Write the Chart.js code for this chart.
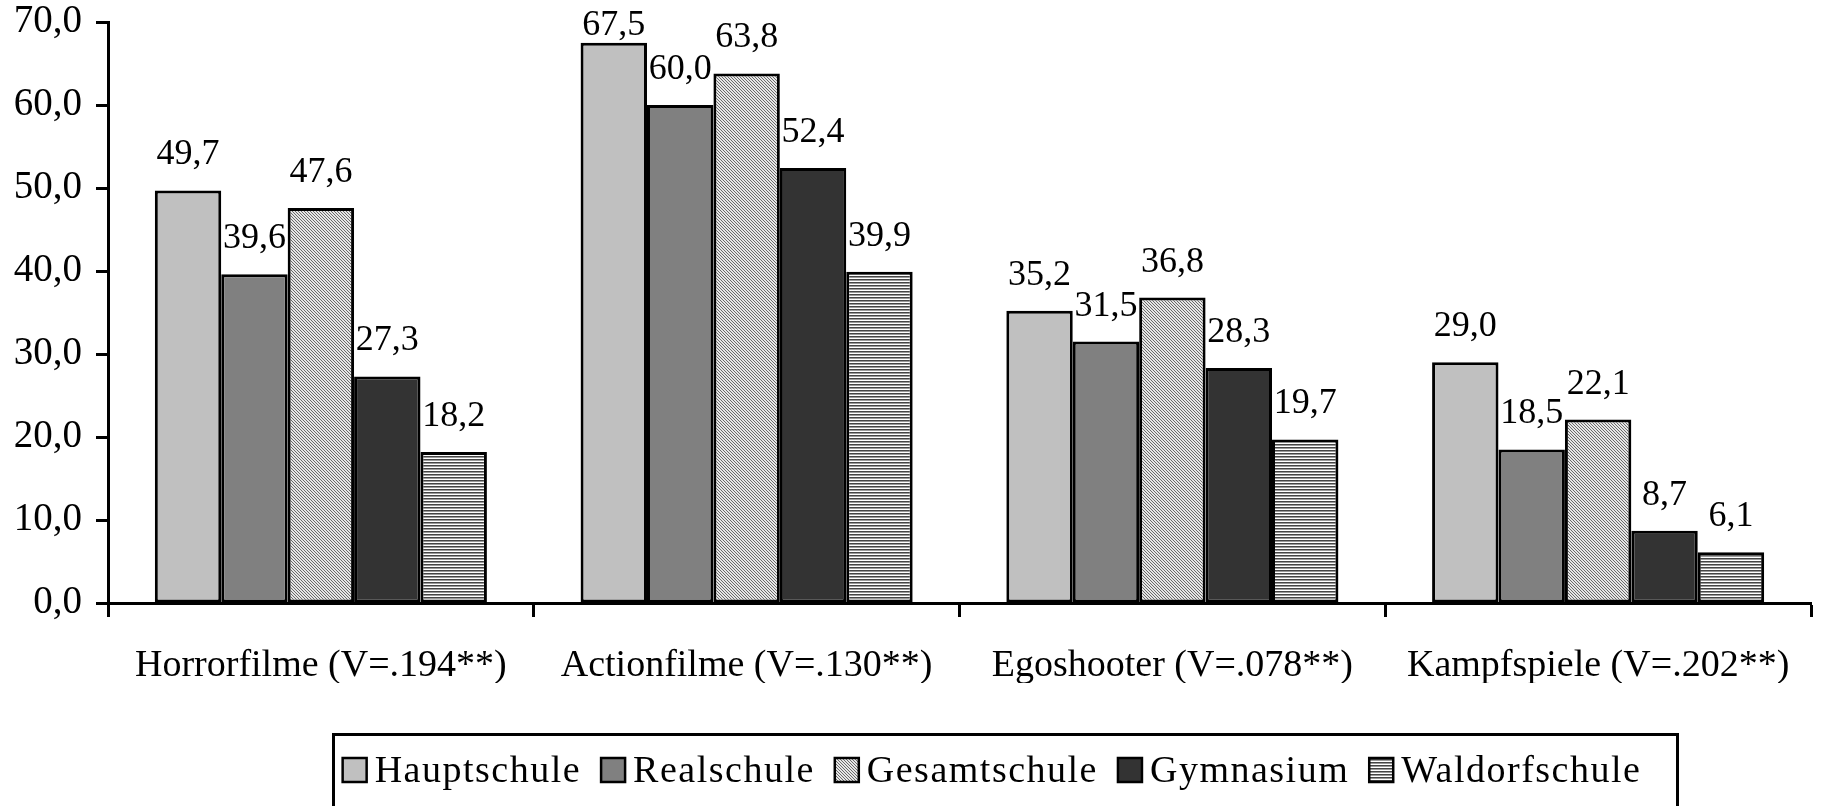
<!DOCTYPE html>
<html>
<head>
<meta charset="utf-8">
<script src="https://cdn.jsdelivr.net/npm/chart.js@4/dist/chart.umd.min.js"></script>
<style>
  html, body { margin: 0; padding: 0; background: #fff; }
  canvas { display: block; }
</style>
</head>
<body>
<canvas id="schoolChart" width="1822" height="806"></canvas>
<script>
// Kategorien und Werte (Prozent) je Schulform
const categories = [
    'Horrorfilme (V=.194**)',
    'Actionfilme (V=.130**)',
    'Egoshooter (V=.078**)',
    'Kampfspiele (V=.202**)'
];
const seriesNames = ['Hauptschule', 'Realschule', 'Gesamtschule', 'Gymnasium', 'Waldorfschule'];
const hauptschule = [49.7, 67.5, 35.2, 29.0];
const realschule = [39.6, 60.0, 31.5, 18.5];
const gesamtschule = [47.6, 63.8, 36.8, 22.1];
const gymnasium = [27.3, 52.4, 28.3, 8.7];
const waldorfschule = [18.2, 39.9, 19.7, 6.1];
const yMin = 0;
const yMax = 70;
const yStep = 10;

const FONT = '"Liberation Serif", "Times New Roman", serif';

function fmt(v) {
    return v.toFixed(1).replace('.', ',');
}

// Füllmuster für die schraffierten Balken
function makePattern(w, h, draw) {
    const c = document.createElement('canvas');
    c.width = w;
    c.height = h;
    const g = c.getContext('2d');
    draw(g);
    return g.createPattern(c, 'repeat');
}

const diagonalPattern = makePattern(3, 3, g => {
    g.fillStyle = '#e6e6e6';
    g.fillRect(0, 0, 3, 3);
    g.fillStyle = '#6a6a6a';
    for (let i = 0; i < 3; i++) g.fillRect(i, i, 1, 1);
});

const stripePattern = makePattern(3, 3, g => {
    g.fillStyle = '#454545';
    g.fillRect(0, 0, 3, 1);
    g.fillStyle = '#9a9a9a';
    g.fillRect(0, 1, 3, 1);
    g.fillStyle = '#ffffff';
    g.fillRect(0, 2, 3, 1);
});

const fills = ['#c0c0c0', '#808080', diagonalPattern, '#333333', stripePattern];
const values = [hauptschule, realschule, gesamtschule, gymnasium, waldorfschule];

// Wertbeschriftung über jedem Balken (oben am Rand festgehalten)
const valueLabels = {
    id: 'valueLabels',
    afterDatasetsDraw(chart) {
        const ctx = chart.ctx;
        ctx.save();
        ctx.font = '36px ' + FONT;
        ctx.fillStyle = '#000';
        ctx.textAlign = 'center';
        ctx.textBaseline = 'alphabetic';
        chart.data.datasets.forEach((ds, i) => {
            chart.getDatasetMeta(i).data.forEach((bar, j) => {
                ctx.fillText(fmt(ds.data[j]), bar.x, Math.max(bar.y - 26, 35));
            });
        });
        ctx.restore();
    }
};

// Legende mit Rahmen unter dem Diagramm
const boxedLegend = {
    id: 'boxedLegend',
    afterDraw(chart) {
        const ctx = chart.ctx;
        ctx.save();
        ctx.lineWidth = 3;
        ctx.strokeStyle = '#000';
        ctx.strokeRect(333.5, 734.5, 1344, 100);

        ctx.font = '38px ' + FONT;
        ctx.letterSpacing = '1.5px';
        ctx.textBaseline = 'alphabetic';
        ctx.textAlign = 'left';
        const sw = 24, gapIn = 8, gapOut = 20;
        const widths = chart.data.datasets.map(ds => ctx.measureText(ds.label).width);
        const total = widths.reduce((a, w) => a + sw + gapIn + w, 0) + gapOut * (widths.length - 1);
        let x = 992 - total / 2;
        chart.data.datasets.forEach((ds, i) => {
            ctx.fillStyle = ds.backgroundColor;
            ctx.fillRect(x, 758, sw, sw);
            ctx.lineWidth = 2.5;
            ctx.strokeRect(x, 758, sw, sw);
            ctx.fillStyle = '#000';
            ctx.fillText(ds.label, x + sw + gapIn, 782);
            x += sw + gapIn + widths[i] + gapOut;
        });
        ctx.restore();
    }
};

const datasets = seriesNames.map((name, i) => ({
    label: name,
    data: values[i],
    backgroundColor: fills[i],
    borderColor: '#000',
    borderWidth: 3,
    borderSkipped: false,
    categoryPercentage: 0.78,
    barPercentage: 1.0
}));

new Chart(document.getElementById('schoolChart').getContext('2d'), {
    type: 'bar',
    data: { labels: categories, datasets: datasets },
    options: {
        responsive: false,
        animation: false,
        layout: { padding: { top: 22, right: 11, bottom: 123, left: 0 } },
        plugins: {
            legend: { display: false },
            tooltip: { enabled: false }
        },
        scales: {
            x: {
                grid: {
                    drawOnChartArea: false,
                    drawTicks: true,
                    tickLength: 14,
                    tickWidth: 3,
                    tickColor: '#000',
                    offset: true
                },
                border: { color: '#000', width: 3 },
                ticks: {
                    color: '#000',
                    font: { family: FONT, size: 38 },
                    padding: 26,
                    maxRotation: 0,
                    autoSkip: false
                },
                afterFit(scale) { scale.height = 80; }
            },
            y: {
                min: yMin,
                max: yMax,
                grid: {
                    drawOnChartArea: false,
                    drawTicks: true,
                    tickLength: 12,
                    tickWidth: 3,
                    tickColor: '#000'
                },
                border: { color: '#000', width: 3 },
                ticks: {
                    stepSize: yStep,
                    color: '#000',
                    font: { family: FONT, size: 39 },
                    padding: 14,
                    callback: v => fmt(v)
                },
                afterFit(scale) {
                    scale.width = 108;
                    scale.paddingTop = 0;
                    scale.paddingBottom = 0;
                }
            }
        }
    },
    plugins: [valueLabels, boxedLegend]
});
</script>
</body>
</html>
